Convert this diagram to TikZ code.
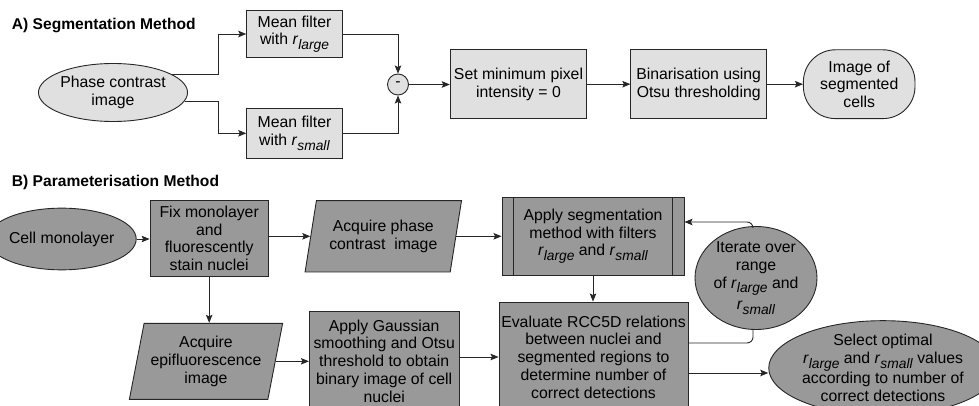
\documentclass[tikz,border=0pt]{standalone}
\usepackage{fontspec}
\setmainfont{Liberation Sans}
\usetikzlibrary{shapes.geometric,arrows.meta}

\definecolor{fillA}{HTML}{E0E0E0}
\definecolor{fillB}{HTML}{999999}
\definecolor{edge}{HTML}{262626}

% italic r with an italic subscript label
\newcommand{\rsub}[1]{\textit{r}\raisebox{-0.28em}{\fontsize{13.8}{13.8}\selectfont\textit{#1}}}

\tikzset{
  base/.style={draw=edge, line width=0.9pt, align=center, inner sep=0pt,
    font=\fontsize{15.8}{17.8}\selectfont, text=black},
  boxA/.style={base, rectangle, fill=fillA},
  ovalA/.style={base, ellipse, fill=fillA},
  boxB/.style={base, rectangle, fill=fillB},
  ovalB/.style={base, ellipse, fill=fillB},
  slantB/.style={base, trapezium, trapezium stretches=true, fill=fillB},
  heading/.style={font=\bfseries\fontsize{15.6}{17}\selectfont, anchor=base west, inner sep=0pt},
  arr/.style={draw=edge, line width=0.9pt, -{Stealth[length=8pt,width=6.5pt,inset=1.5pt]}},
  link/.style={draw=edge, line width=0.9pt}
}

\begin{document}
\begin{tikzpicture}[x=1pt,y=-1pt]
\path[use as bounding box, clip] (0,0) rectangle (979,406);

% ---------------- A) Segmentation method ----------------
\node[heading] (titleA) at (11.7,30) {A) Segmentation Method};

\node[ovalA, minimum width=134pt, minimum height=58pt] (pce) at (113,92.5) {Phase contrast\\image};
\node[boxA, minimum width=95.6pt, minimum height=46.7pt] (mfl) at (294.5,34) {Mean filter\\with \rsub{large}};
\node[boxA, minimum width=95.6pt, minimum height=50pt] (mfs) at (294.5,133.3) {Mean filter\\with \rsub{small}};
\node[base, circle, fill=fillA, minimum size=21pt] (minus) at (398,84.5) {-};
\node[boxA, minimum width=136.5pt, minimum height=68.8pt] (setmin) at (518.5,84.2) {Set minimum pixel\\intensity = 0};
\node[boxA, minimum width=135.8pt, minimum height=68.8pt] (bin) at (698.7,84.2) {Binarisation using\\Otsu thresholding};
\node[base, rectangle, rounded corners=32pt, fill=fillA, minimum width=111.6pt, minimum height=68.8pt] (segcells) at (859.2,84.2) {Image of\\segmented\\cells};

\draw[arr] (pce.17) -| ([xshift=-27.7pt]mfl.west) -- (mfl.west);
\draw[arr] (pce.-7) -| ([xshift=-27.7pt]mfs.west) -- (mfs.west);
\draw[arr] (mfl.east) -| (minus.north);
\draw[arr] (mfs.east) -| (minus.south);
\draw[arr] (minus.east) -- (minus.east -| setmin.west);
\draw[arr] (setmin.east) -- (bin.west);
\draw[arr] (bin.east) -- (segcells.west);

% ---------------- B) Parameterisation method ----------------
\node[heading] (titleB) at (11.7,186) {B) Parameterisation Method};

\node[ovalB, minimum width=110pt, minimum height=61.7pt] (cm) at (61.7,239) {Cell monolayer};
\node[boxB, minimum width=118.3pt, minimum height=75.3pt] (fix) at (209.2,238.3) {Fix monolayer\\and\\fluorescently\\stain nuclei};
\node[slantB, trapezium left angle=74.3, trapezium right angle=105.7,
      minimum width=156.7pt, minimum height=71.3pt] (apc) at (383.3,236.3) {Acquire phase\\contrast\ \ image};
\node[slantB, trapezium left angle=75.3, trapezium right angle=104.7,
      minimum width=153.3pt, minimum height=76pt] (epi) at (206,361.3) {Acquire\\epifluorescence\\image};
\node[boxB, minimum width=149.7pt, minimum height=98.6pt] (gauss) at (384.2,361) {Apply Gaussian\\smoothing and Otsu\\threshold to obtain\\binary image of cell\\nuclei};
\node[boxB, minimum width=182pt, minimum height=78pt] (seg) at (593,236) {Apply segmentation\\method with filters\\\rsub{large} and \rsub{small}};
\draw[edge, line width=0.9pt] ([xshift=12pt]seg.north west) -- ([xshift=12pt]seg.south west)
                              ([xshift=-12pt]seg.north east) -- ([xshift=-12pt]seg.south east);
\node[boxB, minimum width=189pt, minimum height=110pt] (eval) at (593.5,357) {Evaluate RCC5D relations\\between nuclei and\\segmented regions to\\determine number of\\correct detections};
\node[ovalB, minimum width=122pt, minimum height=100pt] (iter) at (756,278) {Iterate over\\range\\of \rsub{large} and\\[4pt]\rsub{small}};
\node[ovalB, minimum width=190pt, minimum height=92pt] (sel) at (883,368) {Select optimal\\\rsub{large} and \rsub{small} values\\according to number of\\correct detections};

\draw[arr] (cm.east) -- (cm.east -| fix.west);
\draw[arr] (fix.east |- apc.west) -- (apc.west);
\draw[arr] (fix.south) -- (fix.south |- epi.north);
\draw[arr] (apc.east) -- (apc.east -| seg.west);
\draw[arr] (epi.east) -- (epi.east -| gauss.west);
\draw[arr] (gauss.east |- eval.west) -- (eval.west);
\draw[arr] (seg.south) -- (seg.south |- eval.north);
\draw[link, rounded corners=6pt] ([yshift=14pt]eval.east) -| ([xshift=-3pt]iter.south);
\draw[arr, rounded corners=6pt] ([xshift=-3pt]iter.north) |- ([yshift=14pt]seg.east);
\draw[arr] ([yshift=-5pt]eval.east |- sel.west) -- ([yshift=-5pt]sel.west);
\end{tikzpicture}
\end{document}
